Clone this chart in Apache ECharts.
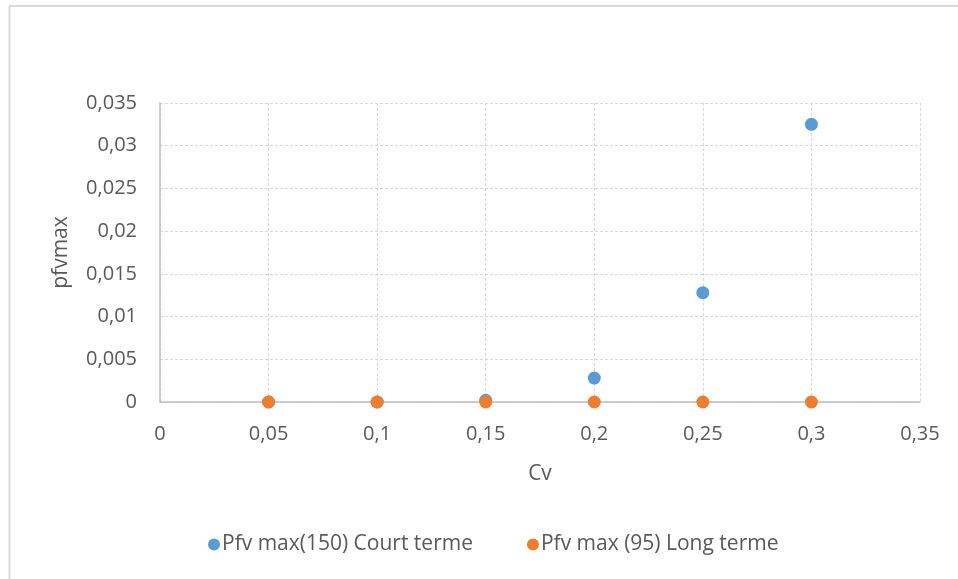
<!DOCTYPE html>
<html>
<head>
<meta charset="utf-8">
<script src="https://cdn.jsdelivr.net/npm/echarts@6/dist/echarts.min.js"></script>
<style>
html,body{margin:0;padding:0;background:#fff;}
#c{width:958px;height:579px;}
</style>
</head>
<body>
<div id="c"></div>
<script>
const cvValues = [0.05, 0.1, 0.15, 0.2, 0.25, 0.3];
const courtTerme = [0, 0, 0.0002, 0.0028, 0.0128, 0.0325];
const longTerme = [0, 0, 0, 0, 0, 0];
const seriesNames = ['Pfv max(150) Court terme', 'Pfv max (95) Long terme'];
const xAxisName = 'Cv';
const yAxisName = 'pfvmax';

const fmt = v => String(parseFloat(Number(v).toFixed(4))).replace('.', ',');
const pairs = ys => cvValues.map((x, i) => [x, ys[i]]);
const FONT = '"Open Sans", "Liberation Sans", sans-serif';
const TXT = '#595959';

const chart = echarts.init(document.getElementById('c'));
chart.setOption({
  animation: false,
  backgroundColor: '#fff',
  textStyle: { fontFamily: FONT },
  grid: { left: 160, right: 38, top: 103, bottom: 177, containLabel: false },
  legend: {
    bottom: 19,
    left: 203,
    icon: 'circle',
    itemWidth: 12,
    itemHeight: 12,
    itemGap: 54,
    textStyle: { color: TXT, fontSize: 21, fontFamily: FONT, padding: [0, 0, 0, -3] },
    data: seriesNames
  },
  xAxis: {
    type: 'value',
    min: 0, max: 0.35, interval: 0.05,
    name: xAxisName,
    nameLocation: 'middle',
    nameGap: 62,
    nameTextStyle: { color: TXT, fontSize: 21, fontFamily: FONT },
    axisLine: { show: true, onZero: false, lineStyle: { color: '#bfbfbf', width: 1.5 } },
    axisTick: { show: false },
    axisLabel: { color: TXT, fontSize: 20, margin: 22, formatter: fmt },
    splitLine: { show: true, lineStyle: { color: '#d9d9d9', type: [3, 2], width: 1 } }
  },
  yAxis: {
    type: 'value',
    min: 0, max: 0.035, interval: 0.005,
    name: yAxisName,
    nameLocation: 'middle',
    nameGap: 88,
    nameRotate: 90,
    nameTextStyle: { color: TXT, fontSize: 21, fontFamily: FONT },
    axisLine: { show: true, lineStyle: { color: '#bfbfbf', width: 1.5 } },
    axisTick: { show: false },
    axisLabel: { color: TXT, fontSize: 20, margin: 23, formatter: fmt },
    splitLine: { show: true, lineStyle: { color: '#d9d9d9', type: [3, 2], width: 1 } }
  },
  series: [
    {
      name: seriesNames[0], type: 'scatter', symbol: 'circle', symbolSize: 13,
      itemStyle: { color: '#5B9BD5', opacity: 1 }, data: pairs(courtTerme), z: 2
    },
    {
      name: seriesNames[1], type: 'scatter', symbol: 'circle', symbolSize: 13,
      itemStyle: { color: '#ED7D31', opacity: 1 }, data: pairs(longTerme), z: 3
    }
  ],
  graphic: [
    { type: 'line', shape: { x1: 9, y1: 6, x2: 958, y2: 6 }, style: { stroke: '#d9d9d9', lineWidth: 2 } },
    { type: 'line', shape: { x1: 9.5, y1: 6, x2: 9.5, y2: 579 }, style: { stroke: '#d9d9d9', lineWidth: 2 } }
  ]
});
</script>
</body>
</html>
